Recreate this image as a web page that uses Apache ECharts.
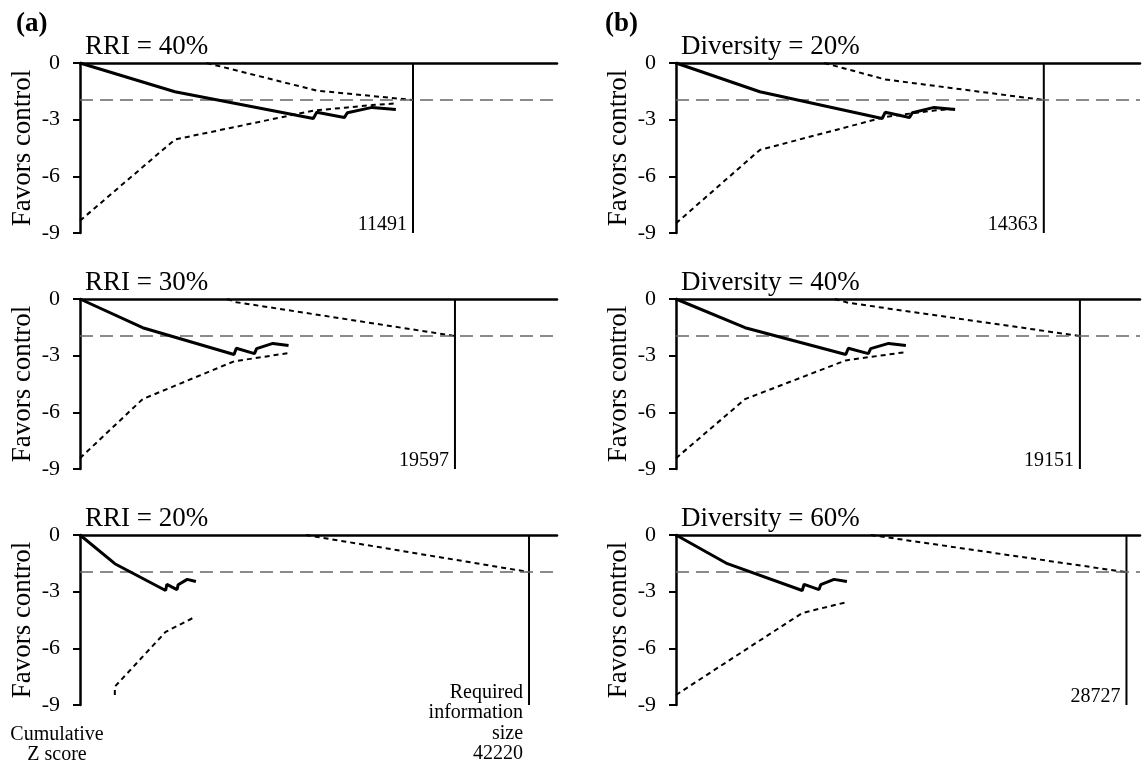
<!DOCTYPE html>
<html>
<head>
<meta charset="utf-8">
<script src="https://cdn.jsdelivr.net/npm/echarts@6/dist/echarts.min.js"></script>
<style>
html, body { margin: 0; padding: 0; background: #fff; }
#chart { width: 1143px; height: 763px; }
</style>
</head>
<body>
<div id="chart"></div>
<script>
// cumulative Z-curve (same in every panel), x = cumulative participants
var zN = [0, 3275, 8050, 8170, 9120, 9230, 10080, 10900];
var zScore = [0, -1.52, -2.94, -2.61, -2.89, -2.63, -2.35, -2.46];

var panelTitles = ['RRI = 40%', 'RRI = 30%', 'RRI = 20%',
                   'Diversity = 20%', 'Diversity = 40%', 'Diversity = 60%'];
var risValues = [11491, 19597, 42220, 14363, 19151, 28727];
var risLabels = ['11491', '19597', 'Required\ninformation\nsize\n42220',
                 '14363', '19151', '28727'];
var yTicks = [0, -3, -6, -9];

// monitoring boundary (lower), [participants, z]
var lowerBounds = [
  [[0, -8.35], [3275, -4.05], [8050, -2.52], [8170, -2.5], [9120, -2.37], [9230, -2.35], [10080, -2.23], [10900, -2.14]],
  [[0, -8.43], [3275, -5.3], [8050, -3.3], [10900, -2.86]],
  [[3275, -8.47], [3275, -8.03], [8050, -5.13], [10900, -4.31]],
  [[0, -8.49], [3275, -4.6], [8050, -2.9], [8170, -2.86], [9120, -2.68], [9230, -2.66], [10080, -2.52], [10900, -2.42]],
  [[0, -8.43], [3275, -5.3], [8050, -3.25], [10900, -2.81]],
  [[0, -8.47], [3275, -6.7], [8050, -4.13], [10900, -3.55]]
];
// futility boundary (upper), [participants, z]
var upperBounds = [
  [[4370, 0], [8170, -1.46], [11491, -1.96]],
  [[7690, 0], [8170, -0.17], [19597, -1.96]],
  [[21230, 0], [42220, -1.96]],
  [[5790, 0], [8170, -0.87], [14363, -1.96]],
  [[7520, 0], [8170, -0.2], [19151, -1.96]],
  [[12420, 0], [28727, -1.97]]
];

// x range of each panel (the axis is stretched so the RIS sits where it does)
var axisMax = [16460, 24930, 44850, 18120, 22000, 29590];
var gridTops = [63, 299, 535];
var gridLefts = [80, 676];
var gridWidths = [477, 464];
var FONT = 'Liberation Serif';

var chart = echarts.init(document.getElementById('chart'));

var grids = [], xAxes = [], yAxes = [], series = [], titles = [];

titles.push({ text: '(a)', left: 11, top: 6, textStyle: { fontFamily: FONT, fontSize: 27, fontWeight: 'bold', color: '#000' } });
titles.push({ text: '(b)', left: 600, top: 6, textStyle: { fontFamily: FONT, fontSize: 27, fontWeight: 'bold', color: '#000' } });
titles.push({
  text: 'Cumulative\nZ score', left: 52, top: 719, textAlign: 'center',
  textStyle: { fontFamily: FONT, fontSize: 20, lineHeight: 20.5, fontWeight: 'normal', color: '#000' }
});

for (var i = 0; i < 6; i++) {
  var col = Math.floor(i / 3), row = i % 3;
  grids.push({ left: gridLefts[col], top: gridTops[row], width: gridWidths[col], height: 170 });
  titles.push({
    text: panelTitles[i], left: gridLefts[col], top: gridTops[row] - 35,
    textStyle: { fontFamily: FONT, fontSize: 27, fontWeight: 'normal', color: '#000' }
  });
  xAxes.push({
    type: 'value', gridIndex: i, min: 0, max: axisMax[i], position: 'top',
    axisLine: { onZero: false, lineStyle: { color: '#000', width: 2.5 } },
    axisTick: { show: false }, axisLabel: { show: false }, splitLine: { show: false }
  });
  yAxes.push({
    type: 'value', gridIndex: i, min: -9, max: 0, interval: 3,
    name: 'Favors control', nameLocation: 'middle', nameGap: 44,
    nameTextStyle: { fontFamily: FONT, fontSize: 27, color: '#000' },
    axisLine: { show: true, onZero: false, lineStyle: { color: '#000', width: 2.5 } },
    axisTick: { show: true, length: 7, lineStyle: { color: '#000', width: 2 } },
    axisLabel: {
      fontFamily: FONT, fontSize: 22, color: '#000', margin: 20,
      formatter: function (v) { return yTicks.indexOf(v) >= 0 ? String(v) : ''; }
    },
    splitLine: { show: false }
  });

  series.push({
    type: 'line', xAxisIndex: i, yAxisIndex: i, z: 5,
    data: zN.map(function (n, k) { return [n, zScore[k]]; }),
    showSymbol: false, silent: true,
    lineStyle: { color: '#000', width: 3 },
    markLine: {
      silent: true, symbol: ['none', 'none'], label: { show: false },
      lineStyle: { color: '#666', width: 1.5, type: [13, 7] },
      data: [{ yAxis: -1.96 }]
    }
  });
  series.push({
    type: 'line', xAxisIndex: i, yAxisIndex: i, data: lowerBounds[i],
    showSymbol: false, silent: true,
    lineStyle: { color: '#000', width: 2, type: [5, 4] }
  });
  series.push({
    type: 'line', xAxisIndex: i, yAxisIndex: i, data: upperBounds[i],
    showSymbol: false, silent: true,
    lineStyle: { color: '#000', width: 2, type: [5, 4] }
  });
  series.push({
    type: 'line', xAxisIndex: i, yAxisIndex: i,
    data: [[risValues[i], 0], [risValues[i], -9]],
    showSymbol: false, silent: true,
    lineStyle: { color: '#000', width: 2 }
  });
}

chart.setOption({
  backgroundColor: '#fff',
  animation: false,
  title: titles,
  grid: grids,
  xAxis: xAxes,
  yAxis: yAxes,
  series: series
});

// RIS labels, placed next to the foot of each RIS line through the axes
var labels = [];
for (var j = 0; j < 6; j++) {
  var pt = chart.convertToPixel({ gridIndex: j }, [risValues[j], -9]);
  var multi = risLabels[j].indexOf('\n') >= 0;
  labels.push({
    type: 'text', x: pt[0] - 6, y: multi ? pt[1] - 23 : pt[1] - 8, silent: true,
    style: {
      text: risLabels[j], fill: '#000', align: 'right',
      verticalAlign: multi ? 'top' : 'middle',
      font: '20px ' + FONT, lineHeight: 20.5
    }
  });
}
chart.setOption({ graphic: labels });
</script>
</body>
</html>
